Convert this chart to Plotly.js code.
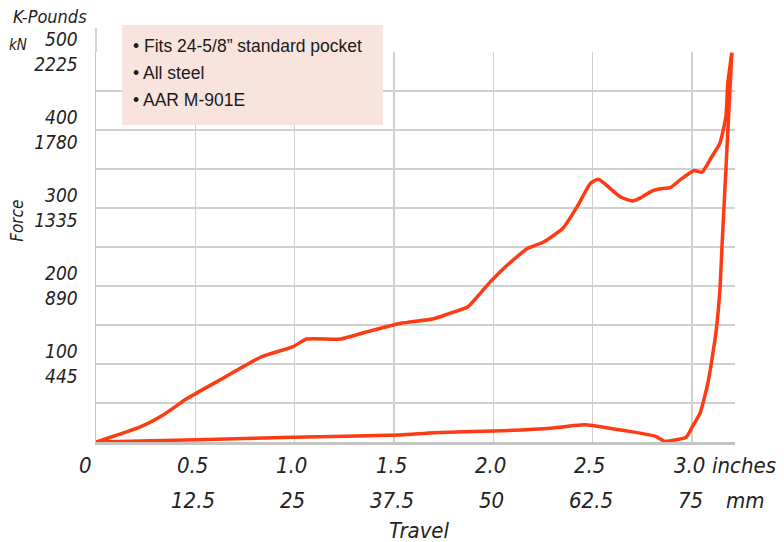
<!DOCTYPE html>
<html>
<head>
<meta charset="utf-8">
<script src="https://cdn.plot.ly/plotly-3.0.1.min.js"></script>
<style>html,body{margin:0;padding:0;background:#fff;}#chart{width:784px;height:542px;}</style>
</head>
<body>
<div id="chart"></div>
<script>
// Travel in inches, Force in K-Pounds
const loadX = [0, 0.22, 0.34, 0.46, 0.62, 0.83, 0.99, 1.06, 1.23, 1.36, 1.53, 1.70, 1.78, 1.87, 1.98, 2.08, 2.15, 2.17, 2.25, 2.35, 2.42, 2.49, 2.53, 2.57, 2.64, 2.70, 2.74, 2.80, 2.85, 2.89, 2.94, 3.01, 3.05, 3.10, 3.14, 3.17, 3.18, 3.20];
const loadY = [0, 19, 35, 56, 79, 109, 122, 132, 132, 141, 152, 158, 165, 173, 204, 229, 244, 248, 256, 274, 301, 332, 337, 329, 314, 309, 313, 322, 325, 326, 336, 348, 346, 366, 383, 417, 460, 499];
const unloadX = [3.20, 3.15, 3.14, 3.12, 3.08, 3.04, 3.00, 2.97, 2.92, 2.86, 2.82, 2.70, 2.60, 2.46, 2.30, 2.00, 1.70, 1.53, 0.99, 0.51, 0];
const unloadY = [499, 248, 195, 140, 76, 37, 19, 6, 3, 1, 7, 13, 17, 22, 18, 14, 12, 9, 6, 3, 0];

const yTickVals = [50, 100, 150, 200, 250, 300, 350, 400, 450, 500];
const yTickText = ["", "100<br>445", "", "200<br>890", "", "300<br>1335", "", "400<br>1780", "", "500<br>2225"];
const xGridVals = [0.5, 1.0, 1.5, 2.0, 2.5, 3.0];
const xInchVals = [0, 0.5, 1.0, 1.5, 2.0, 2.5, 3.0];
const xInchText = ["0", "0.5", "1.0", "1.5", "2.0", "2.5", "3.0"];
const xMmVals = [0.5, 1.0, 1.5, 2.0, 2.5, 3.0];
const xMmText = ["12.5", "25", "37.5", "50", "62.5", "75"];
const boxLines = ["• Fits 24-5/8” standard pocket", "• All steel", "• AAR M-901E"];

const FONT = "DejaVu Sans Condensed, Liberation Sans Narrow, DejaVu Sans, sans-serif";
const TXT = "#222222";
const RED = "#ff3b12";

const traces = [
  {x: loadX, y: loadY, mode: "lines", line: {color: RED, width: 3.5, shape: "spline", smoothing: 0.5}, hoverinfo: "skip"},
  {x: unloadX, y: unloadY, mode: "lines", line: {color: RED, width: 3.5, shape: "spline", smoothing: 0.5}, hoverinfo: "skip"}
];

const annotations = [];
xInchVals.forEach((v, i) => {
  annotations.push({x: v, y: -0.059, xref: "x", yref: "paper", text: xInchText[i], showarrow: false,
    xanchor: "center", yanchor: "middle", xshift: i === 0 ? -11 : -3,
    font: {family: FONT, size: 22, color: TXT, style: "italic"}});
});
xMmVals.forEach((v, i) => {
  annotations.push({x: v, y: -0.149, xref: "x", yref: "paper", text: xMmText[i], showarrow: false,
    xanchor: "center", yanchor: "middle", xshift: -2,
    font: {family: FONT, size: 22, color: TXT, style: "italic"}});
});
annotations.push({x: 3.0, y: -0.059, xref: "x", yref: "paper", text: "inches", showarrow: false,
  xanchor: "left", yanchor: "middle", xshift: 18, font: {family: FONT, size: 22, color: TXT, style: "italic"}});
annotations.push({x: 3.0, y: -0.149, xref: "x", yref: "paper", text: "mm", showarrow: false,
  xanchor: "left", yanchor: "middle", xshift: 32, font: {family: FONT, size: 22, color: TXT, style: "italic"}});
annotations.push({x: 1.63, y: -0.226, xref: "x", yref: "paper", text: "Travel", showarrow: false,
  xanchor: "center", yanchor: "middle", font: {family: FONT, size: 22, color: TXT, style: "italic"}});
annotations.push({x: 0, y: 1.09, xref: "paper", yref: "paper", text: "K-Pounds", showarrow: false,
  xanchor: "left", yanchor: "middle", xshift: -85, font: {family: FONT, size: 18, color: TXT, style: "italic"}});
annotations.push({x: 0, y: 1.0, xref: "paper", yref: "paper", text: "kN", showarrow: false,
  xanchor: "left", yanchor: "middle", xshift: -89, yshift: 7, font: {family: FONT, size: 15, color: TXT, style: "italic"}});
annotations.push({x: 0, y: 0.567, xref: "paper", yref: "paper", text: "Force", showarrow: false, textangle: -90,
  xanchor: "center", yanchor: "middle", xshift: -79, font: {family: FONT, size: 17, color: TXT, style: "italic"}});
boxLines.forEach((t, i) => {
  annotations.push({x: 0, y: 1.0, xref: "paper", yref: "paper", text: t, showarrow: false,
    xanchor: "left", yanchor: "middle", xshift: 35, yshift: 6 - 27 * i,
    font: {family: "Liberation Sans, Arial, sans-serif", size: 17.5, color: "#1a1a1a"}});
});

const layout = {
  width: 784, height: 542,
  margin: {l: 96, r: 49, t: 52, b: 100},
  paper_bgcolor: "#ffffff", plot_bgcolor: "#ffffff",
  showlegend: false,
  xaxis: {range: [0, 3.216], tickvals: xGridVals, ticktext: xGridVals.map(() => ""), showgrid: true,
    gridcolor: "#d0d0d0", gridwidth: 1.5, zeroline: false, showline: true, linecolor: "#c4c4c4", linewidth: 2.5,
    ticks: "", fixedrange: true},
  yaxis: {range: [0, 500], tickvals: yTickVals, ticktext: yTickText, showgrid: true,
    gridcolor: "#d0d0d0", gridwidth: 1.5, zeroline: false, showline: true, linecolor: "#c4c4c4", linewidth: 1.5,
    ticks: "", ticklabelstandoff: 13, tickfont: {family: FONT, size: 19, color: TXT, style: "italic"}, fixedrange: true},
  shapes: [
    {type: "line", xref: "paper", yref: "paper", x0: 0, x1: 0, y0: 1, y1: 1.0615, line: {color: "#c4c4c4", width: 1.5}},
    {type: "rect", xref: "paper", yref: "paper", x0: 0.0407, x1: 0.449, y0: 0.8128, y1: 1.069,
      fillcolor: "#f9e3dd", line: {width: 0}, layer: "above"}
  ],
  annotations: annotations
};

Plotly.newPlot("chart", traces, layout, {staticPlot: true, displayModeBar: false});
</script>
</body>
</html>
